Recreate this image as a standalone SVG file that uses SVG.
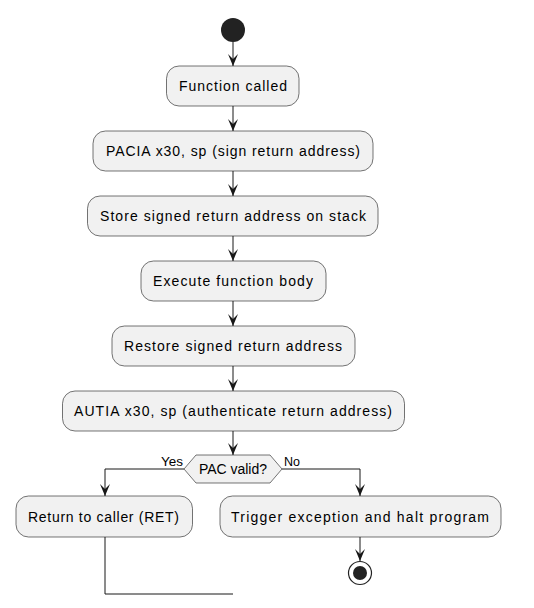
<svg xmlns="http://www.w3.org/2000/svg" width="534" height="608" viewBox="0 0 534 608">
<style>
.box{fill:#F1F1F1;stroke:#181818;stroke-width:0.6}
.t{font-family:"Liberation Sans",Arial,sans-serif;font-size:14px;fill:#000}
.lbl{font-family:"Liberation Sans",Arial,sans-serif;font-size:13px;fill:#000}
.ln{fill:none;stroke:#181818;stroke-width:1}
</style>
<defs>
<marker id="ah" markerWidth="14" markerHeight="12" refX="12" refY="6" orient="auto" markerUnits="userSpaceOnUse" viewBox="0 0 14 12">
<polygon points="0,1 12,6 0,11 5,6" fill="#181818"/>
</marker>
</defs>
<rect width="534" height="608" fill="#FFFFFF"/>
<g id="connectors">
<line class="ln" x1="233" y1="42" x2="233" y2="66" marker-end="url(#ah)"/>
<line class="ln" x1="233" y1="106" x2="233" y2="131" marker-end="url(#ah)"/>
<line class="ln" x1="233" y1="171" x2="233" y2="196" marker-end="url(#ah)"/>
<line class="ln" x1="233" y1="236" x2="233" y2="261" marker-end="url(#ah)"/>
<line class="ln" x1="233" y1="301" x2="233" y2="326" marker-end="url(#ah)"/>
<line class="ln" x1="233" y1="366" x2="233" y2="391" marker-end="url(#ah)"/>
<line class="ln" x1="233" y1="431" x2="233" y2="455" marker-end="url(#ah)"/>
<polyline class="ln" points="184,469 105,469 105,496" marker-end="url(#ah)"/>
<polyline class="ln" points="282,469 360,469 360,496" marker-end="url(#ah)"/>
<line class="ln" x1="360" y1="537" x2="360" y2="561" marker-end="url(#ah)"/>
<polyline class="ln" points="105,537 105,594 233,594"/>
<text class="lbl" x="161" y="466" textLength="22" lengthAdjust="spacingAndGlyphs">Yes</text>
<text class="lbl" x="284" y="466" textLength="16" lengthAdjust="spacingAndGlyphs">No</text>
</g>
<g id="start"><circle cx="233" cy="30" r="12" fill="#222222"/></g>
<g id="n1"><rect class="box" x="166.5" y="66" width="132.5" height="40" rx="12.5"/><text class="t" x="179" y="91" textLength="108" lengthAdjust="spacing">Function called</text></g>
<g id="n2"><rect class="box" x="93" y="131" width="280" height="40" rx="12.5"/><text class="t" x="106" y="156" textLength="254" lengthAdjust="spacing">PACIA x30, sp (sign return address)</text></g>
<g id="n3"><rect class="box" x="87.5" y="196" width="290.5" height="40" rx="12.5"/><text class="t" x="100" y="221" textLength="266" lengthAdjust="spacing">Store signed return address on stack</text></g>
<g id="n4"><rect class="box" x="141" y="261" width="185" height="40" rx="12.5"/><text class="t" x="153" y="286" textLength="160" lengthAdjust="spacing">Execute function body</text></g>
<g id="n5"><rect class="box" x="112" y="326" width="243" height="40" rx="12.5"/><text class="t" x="124" y="351" textLength="218" lengthAdjust="spacing">Restore signed return address</text></g>
<g id="n6"><rect class="box" x="62.5" y="391" width="342" height="40" rx="12.5"/><text class="t" x="74" y="416" textLength="318" lengthAdjust="spacing">AUTIA x30, sp (authenticate return address)</text></g>
<g id="decision"><polygon class="box" points="184,469 196,455 270,455 282,469 270,483 196,483"/><text class="t" x="199" y="474" textLength="68" lengthAdjust="spacing">PAC valid?</text></g>
<g id="n7"><rect class="box" x="16" y="496" width="176.5" height="41" rx="12.5"/><text class="t" x="28" y="521.5" textLength="151" lengthAdjust="spacing">Return to caller (RET)</text></g>
<g id="n8"><rect class="box" x="220" y="496" width="281" height="41" rx="12.5"/><text class="t" x="231" y="521.5" textLength="258" lengthAdjust="spacing">Trigger exception and halt program</text></g>
<g id="end"><circle cx="360" cy="573" r="11.5" fill="#FFFFFF" stroke="#222222" stroke-width="1.2"/><circle cx="360" cy="573" r="7" fill="#222222"/></g>
</svg>
